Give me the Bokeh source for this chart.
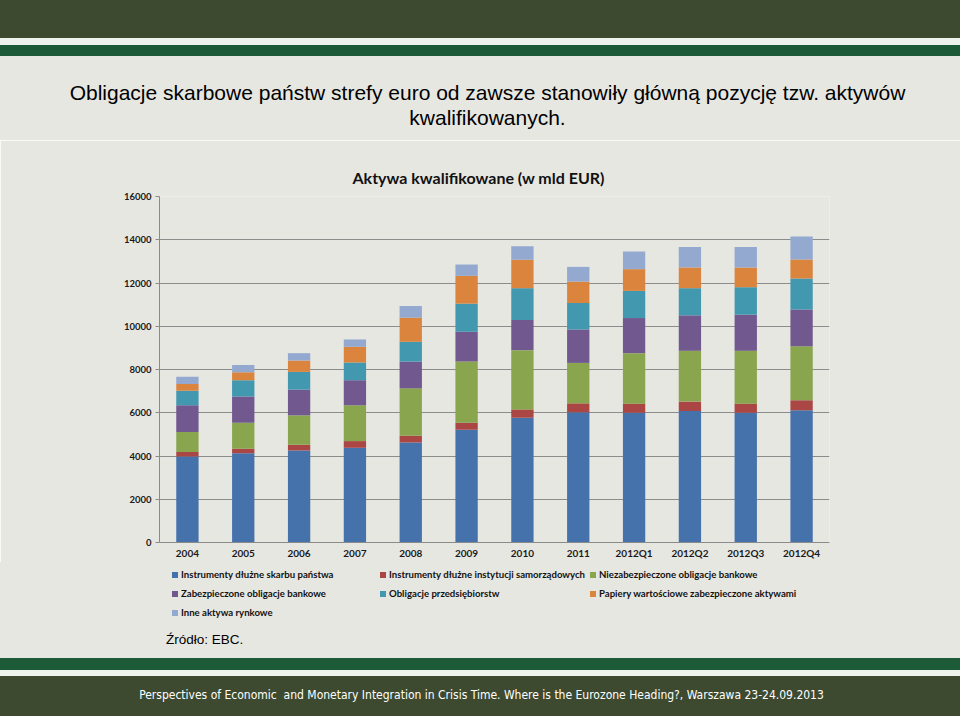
from bokeh.plotting import figure
from bokeh.models import Range1d, FactorRange, FixedTicker, Div, ColumnDataSource
from bokeh.layouts import column
from bokeh.embed import file_html
from bokeh.resources import INLINE

# ---------------- data ----------------
categories = ["2004", "2005", "2006", "2007", "2008", "2009", "2010", "2011",
              "2012Q1", "2012Q2", "2012Q3", "2012Q4"]
skarb_panstwa = [3980, 4130, 4255, 4380, 4625, 5215, 5770, 6020, 6000, 6080, 6000, 6110]
samorzadowe = [200, 200, 265, 310, 310, 325, 385, 415, 420, 435, 420, 465]
niezabezpieczone = [930, 1205, 1360, 1655, 2195, 2830, 2740, 1870, 2335, 2350, 2445, 2505]
zabezpieczone = [1240, 1220, 1190, 1160, 1235, 1375, 1395, 1545, 1625, 1640, 1670, 1700]
przedsiebiorstw = [665, 745, 820, 820, 915, 1300, 1470, 1225, 1255, 1255, 1270, 1425]
papiery_abs = [310, 370, 525, 725, 1115, 1285, 1315, 990, 1005, 960, 910, 880]
inne_aktywa = [340, 340, 340, 340, 540, 525, 620, 680, 820, 945, 945, 1065]

series_names = [
    "Instrumenty dłużne skarbu państwa",
    "Instrumenty dłużne instytucji samorządowych",
    "Niezabezpieczone obligacje bankowe",
    "Zabezpieczone obligacje bankowe",
    "Obligacje przedsiębiorstw",
    "Papiery wartościowe zabezpieczone aktywami",
    "Inne aktywa rynkowe",
]
series_values = [skarb_panstwa, samorzadowe, niezabezpieczone, zabezpieczone,
                 przedsiebiorstw, papiery_abs, inne_aktywa]
colors = ["#4672AC", "#AA4643", "#89A54E", "#71588F", "#4198AF", "#DB843D", "#93A9CF"]
y_ticks = [0, 2000, 4000, 6000, 8000, 10000, 12000, 14000, 16000]

slide_title_1 = "Obligacje skarbowe państw strefy euro od zawsze stanowiły główną pozycję tzw. aktywów"
slide_title_2 = "kwalifikowanych."
chart_title = "Aktywa kwalifikowane (w mld EUR)"
source_note = "Źródło: EBC."
footer_text = ("Perspectives of Economic&nbsp; and Monetary Integration in Crisis Time. "
               "Where is the Eurozone Heading?, Warszawa 23-24.09.2013")

BG = "#e7e7e2"
OLIVE = "#3d4a2f"
GREEN = "#1d5a37"
STRIPE = "#eef3ee"
W = 960

# ---------------- main chart ----------------
keys = ["s%d" % i for i in range(len(series_values))]
data = {"cat": categories}
for k, v in zip(keys, series_values):
    data[k] = v
source = ColumnDataSource(data)

p = figure(width=W, height=422, x_range=FactorRange(*categories), y_range=Range1d(0, 16000),
           toolbar_location=None, output_backend="svg", title=chart_title,
           min_border_left=159, min_border_right=131, min_border_top=56, min_border_bottom=20,
           background_fill_color=BG, border_fill_color=BG, outline_line_color=None)

p.title.align = "left"
p.title.offset = 193
p.title.standoff = 20
p.title.text_font = "Lato"
p.title.text_font_size = "16px"
p.title.text_font_style = "bold"
p.title.text_color = "#111111"

p.vbar_stack(keys, x="cat", width=0.4, color=colors, line_color=None, source=source)

xa = p.xaxis[0]
xa.major_tick_line_color = None
xa.major_tick_out = 0
xa.major_tick_in = 0
xa.axis_line_color = "#8a8a8a"
xa.major_label_standoff = 4
xa.major_label_text_font = "Lato"
xa.major_label_text_font_size = "10px"
xa.major_label_text_font_style = "bold"
xa.major_label_text_color = "#1a1a1a"

ya = p.yaxis[0]
ya.ticker = FixedTicker(ticks=y_ticks)
ya.axis_line_color = "#8a8a8a"
ya.major_tick_line_color = "#8a8a8a"
ya.major_tick_out = 4
ya.major_tick_in = 0
ya.minor_tick_line_color = None
ya.major_label_standoff = 4
ya.major_label_text_font = "Lato"
ya.major_label_text_font_size = "9.5px"
ya.major_label_text_font_style = "bold"
ya.major_label_text_color = "#1a1a1a"

p.xgrid.visible = False
p.ygrid.ticker = FixedTicker(ticks=y_ticks)
p.ygrid.grid_line_color = "#8c8c8c"
p.ygrid.grid_line_width = 1


# ---------------- slide elements (HTML) ----------------
def band(h, color, text="", extra=None):
    st = {"background-color": color, "box-sizing": "border-box"}
    if extra:
        st.update(extra)
    return Div(text=text, width=W, height=h, margin=0, styles=st)


col_widths = [208, 210, 210]
items_html = []
for i, (nm, c) in enumerate(zip(series_names, colors)):
    items_html.append(
        '<span style="display:inline-block;width:%dpx;white-space:nowrap;">'
        '<span style="display:inline-block;width:6px;height:6px;background:%s;'
        'margin-right:3px;vertical-align:0px;"></span>%s</span>' % (col_widths[i % 3], c, nm))
rows_html = []
for r in range(0, len(items_html), 3):
    rows_html.append("".join(items_html[r:r + 3]))
legend_html = "<br>".join(rows_html)

top = band(38, OLIVE)
gap1 = band(7, STRIPE)
g1 = band(11, GREEN)
title_div = band(84, BG, slide_title_1 + "<br>" + slide_title_2,
                 {"color": "#000000", "font-family": "'Liberation Sans', Arial, sans-serif",
                  "font-size": "21px", "line-height": "25px", "text-align": "center",
                  "padding-top": "24px", "padding-left": "15px", "white-space": "nowrap"})
legend_div = band(70, BG, legend_html,
                  {"color": "#111111", "font-family": "Lato, sans-serif", "font-size": "9.6px",
                   "font-weight": "bold", "line-height": "19px", "padding-top": "3px",
                   "padding-left": "172px", "white-space": "nowrap"})
source_div = band(26, BG, source_note,
                  {"color": "#000000", "font-family": "'Liberation Sans', Arial, sans-serif",
                   "font-size": "13.5px", "line-height": "16px", "padding-left": "166px"})
g2 = band(12, GREEN)
gap2 = band(6, STRIPE)
foot = band(40, OLIVE, footer_text,
            {"color": "#ffffff", "font-family": "'DejaVu Sans'", "font-stretch": "condensed",
             "font-size": "12px", "text-align": "center", "line-height": "38px",
             "white-space": "nowrap", "padding-left": "3px"})

layout = column(top, gap1, g1, title_div, p, legend_div, source_div, g2, gap2, foot, spacing=0)

open("out.html", "w").write(file_html(layout, INLINE))
